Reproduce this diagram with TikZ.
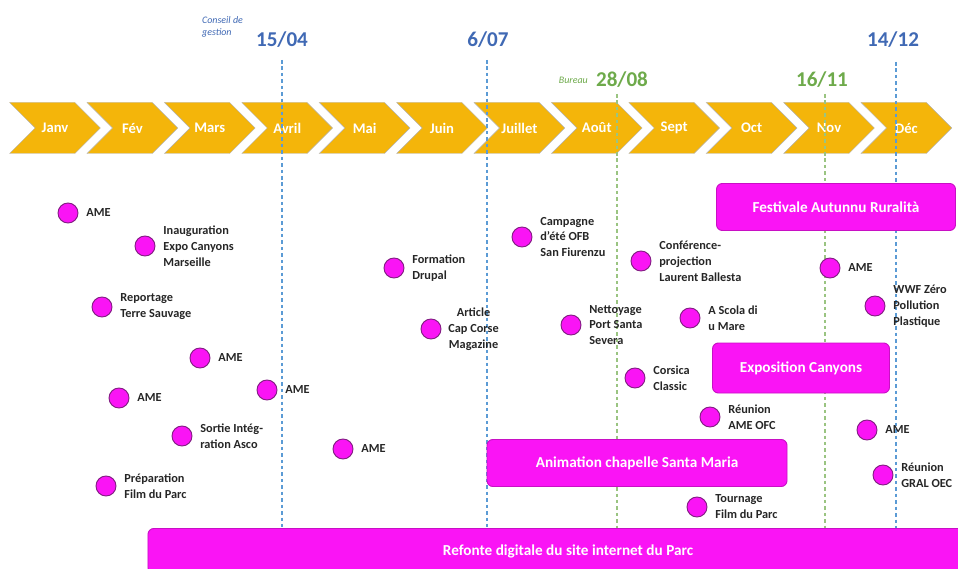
\documentclass[tikz,border=0pt]{standalone}
\usepackage{fontspec}
\setmainfont{Carlito}
\usetikzlibrary{positioning,shapes.symbols}
\definecolor{chev}{RGB}{244,181,10}
\definecolor{evt}{RGB}{250,20,245}
\definecolor{evtedge}{RGB}{130,30,130}
\definecolor{dblue}{RGB}{64,105,180}
\definecolor{lblue}{RGB}{91,155,213}
\definecolor{dgreen}{RGB}{110,170,75}

\begin{document}
\begin{tikzpicture}[x=0.03cm, y=-0.03cm,
      month/.style={signal, signal from=west, signal to=east, draw=black!30,
                    fill=chev, minimum width=2.72cm, minimum height=1.53cm,
                    inner sep=0pt, text=white, font=\fontsize{12.5}{14}\selectfont\bfseries},
      datelbl/.style={font=\fontsize{18}{20}\selectfont\bfseries},
      tiny/.style={font=\fontsize{8.5}{10}\selectfont\itshape, align=left},
      dateline/.style={dashed, dash pattern=on 3pt off 2.5pt, line width=1.1pt},
      evtdot/.style={circle, fill=evt, draw=evtedge, thick, minimum size=0.6cm, inner sep=0pt},
      lbl/.style={font=\fontsize{10.5}{13.6}\selectfont\bfseries, text=black!85,
                  align=left, inner sep=0pt},
      bar/.style={rounded corners=5pt, fill=evt, draw=evt!80!black, thick, text=white,
                  inner sep=0pt, font=\fontsize{13}{15}\selectfont\bfseries}]

    \useasboundingbox (0,0) rectangle (958,569);

    % mois
    \foreach \m [count=\i from 0] in {Janv,Fév,Mars,Avril,Mai,Juin,Juillet,Août,Sept,Oct,Nov,Déc}
      \node[month] (m\i) at (55+77.4*\i, 128) {\m};

    % dates
    \node[datelbl, text=dblue]  (d1504) at (282, 40) {15/04};
    \node[datelbl, text=dblue]  (d0607) at (488, 40) {6/07};
    \node[datelbl, text=dgreen] (d2808) at (622, 80) {28/08};
    \node[datelbl, text=dgreen] (d1611) at (822, 80) {16/11};
    \node[datelbl, text=dblue]  (d1412) at (893, 40) {14/12};
    \node[tiny, text=dblue, anchor=west] (cg) at (198, 27) {Conseil de\\gestion};
    \node[tiny, text=dgreen, anchor=east] (bur) at (d2808.west) {Bureau};

    \coordinate (base) at (0, 528);
    \draw[dateline, lblue]  (282, 60) -- (282, 60 |- base);
    \draw[dateline, lblue]  (487, 60) -- (487, 60 |- base);
    \draw[dateline, dgreen!70] (617, 94) -- (617, 94 |- base);
    \draw[dateline, dgreen!70] (825, 94) -- (825, 94 |- base);
    \draw[dateline, lblue]  (896, 62) -- (896, 62 |- base);

    % actions longues
    \node[bar, minimum width=7.17cm, minimum height=1.41cm] (fest) at (836, 207) {Festivale Autunnu Ruralità};
    \node[bar, minimum width=5.31cm, minimum height=1.5cm]  (expo) at (801, 368) {Exposition Canyons};
    \node[bar, minimum width=9.0cm,  minimum height=1.41cm] (anim) at (637, 463) {Animation chapelle Santa Maria};
    \node[bar, minimum width=25.2cm, minimum height=1.35cm] (refonte) at (568, 551) {Refonte digitale du site internet du Parc};

    % évènements
    \foreach \n/\x/\y/\t in {
        1/68/213/AME,
        2/145/246/{Inauguration\\Expo Canyons\\Marseille},
        3/102/307/{Reportage\\Terre Sauvage},
        4/200/358/AME,
        5/119/398/AME,
        6/267/390/AME,
        7/182/436/{Sortie Intég-\\ration Asco},
        8/106/486/{Préparation\\Film du Parc},
        9/343/449/AME,
        10/394/268/{Formation\\Drupal},
        12/522/237/{Campagne\\d'été OFB\\San Fiurenzu},
        13/571/325/{Nettoyage\\Port Santa\\Severa},
        14/641/261/{Conférence-\\projection\\Laurent Ballesta},
        15/690/318/{A Scola di\\u Mare},
        16/635/378/{Corsica\\Classic},
        17/710/417/{Réunion\\AME OFC},
        18/697/507/{Tournage\\Film du Parc},
        19/830/268/AME,
        20/875/306/{WWF Zéro\\Pollution\\Plastique},
        21/867/430/AME,
        22/883/475/{Réunion\\GRAL OEC}}{
      \node[evtdot] (e\n) at (\x, \y) {};
      \node[lbl, right=0.23cm of e\n] (t\n) {\t};
    }
    \node[evtdot] (e11) at (431, 329) {};
    \node[lbl, align=center, right=0.2cm of e11] (t11) {Article\\Cap Corse\\Magazine};
  \end{tikzpicture}
\end{document}
